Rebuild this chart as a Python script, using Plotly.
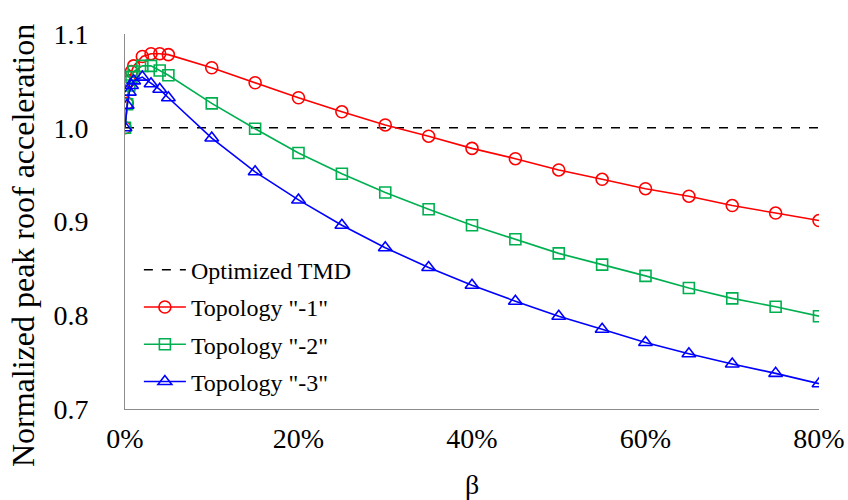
import plotly.graph_objects as go

# Mass ratio beta (%) and normalized peak roof acceleration per topology
beta = [0, 0.25, 0.5, 0.75, 1, 2, 3, 4, 5, 10, 15, 20, 25, 30, 35, 40,
        45, 50, 55, 60, 65, 70, 75, 80]
topology_1 = [1.000, 1.026, 1.050, 1.060, 1.066, 1.076, 1.079, 1.079, 1.078,
              1.064, 1.048, 1.032, 1.017, 1.003, 0.991, 0.978, 0.967, 0.955,
              0.945, 0.935, 0.927, 0.917, 0.909, 0.901]
topology_2 = [1.000, 1.025, 1.045, 1.054, 1.060, 1.066, 1.066, 1.061, 1.056,
              1.026, 0.999, 0.973, 0.951, 0.931, 0.913, 0.896, 0.881, 0.866,
              0.854, 0.842, 0.829, 0.818, 0.809, 0.799]
topology_3 = [1.000, 1.024, 1.038, 1.045, 1.050, 1.054, 1.047, 1.041, 1.032,
              0.989, 0.953, 0.923, 0.896, 0.872, 0.851, 0.832, 0.815, 0.799,
              0.785, 0.771, 0.759, 0.748, 0.738, 0.727]
optimized_tmd = [1.0, 1.0]
tmd_beta = [0, 80]

x_ticks = [0, 20, 40, 60, 80]
y_ticks = [0.7, 0.8, 0.9, 1.0, 1.1]

FONT = "Liberation Serif"

fig = go.Figure()
fig.add_trace(go.Scatter(
    x=tmd_beta, y=optimized_tmd, mode="lines", name="Optimized TMD",
    line=dict(color="black", width=1.5, dash="dash"), legendgroup="a"))

series = [
    ("Topology \"-1\"", topology_1, "#FF0000", "circle-open", 12),
    ("Topology \"-2\"", topology_2, "#00B050", "square-open", 11),
    ("Topology \"-3\"", topology_3, "#0000FF", "triangle-up-open", 12),
]
for i, (name, ys, color, symbol, size) in enumerate(series):
    fig.add_trace(go.Scatter(
        x=beta, y=ys, mode="lines+markers", name=name, legendgroup=str(i),
        line=dict(color=color, width=1.6),
        marker=dict(symbol=symbol, size=size, color=color,
                    line=dict(color=color, width=1.6))))

fig.update_layout(
    width=848, height=500,
    margin=dict(l=125, r=29, t=34, b=91, autoexpand=False),
    paper_bgcolor="white", plot_bgcolor="white",
    font=dict(family=FONT, color="black", size=28),
    showlegend=True,
    legend=dict(x=0.02, y=0.43, xanchor="left", yanchor="top",
                bgcolor="rgba(0,0,0,0)", font=dict(family=FONT, size=24),
                tracegroupgap=3, traceorder="grouped", itemwidth=42),
    annotations=[dict(
        text="Normalized peak roof acceleration", textangle=-90,
        xref="paper", yref="paper", x=-0.147, y=0.437,
        xanchor="center", yanchor="middle", showarrow=False,
        font=dict(family=FONT, size=32, color="black"))],
)
fig.update_xaxes(
    range=[0, 80], tickvals=x_ticks, ticktext=[f"{v}%" for v in x_ticks],
    showgrid=False, zeroline=False, showline=True, linecolor="#8c8c8c",
    linewidth=1, ticks="", ticklabelstandoff=4, automargin=False,
    tickfont=dict(family=FONT, size=28),
    title=dict(text="β", font=dict(family=FONT, size=28), standoff=21))
fig.update_yaxes(
    range=[0.7, 1.1], tickvals=y_ticks, ticktext=[f"{v:.1f}" for v in y_ticks],
    showgrid=False, zeroline=False, showline=True, linecolor="#8c8c8c",
    linewidth=1, ticks="", ticklabelstandoff=30, automargin=False,
    tickfont=dict(family=FONT, size=28))

fig.write_html("out.html")
